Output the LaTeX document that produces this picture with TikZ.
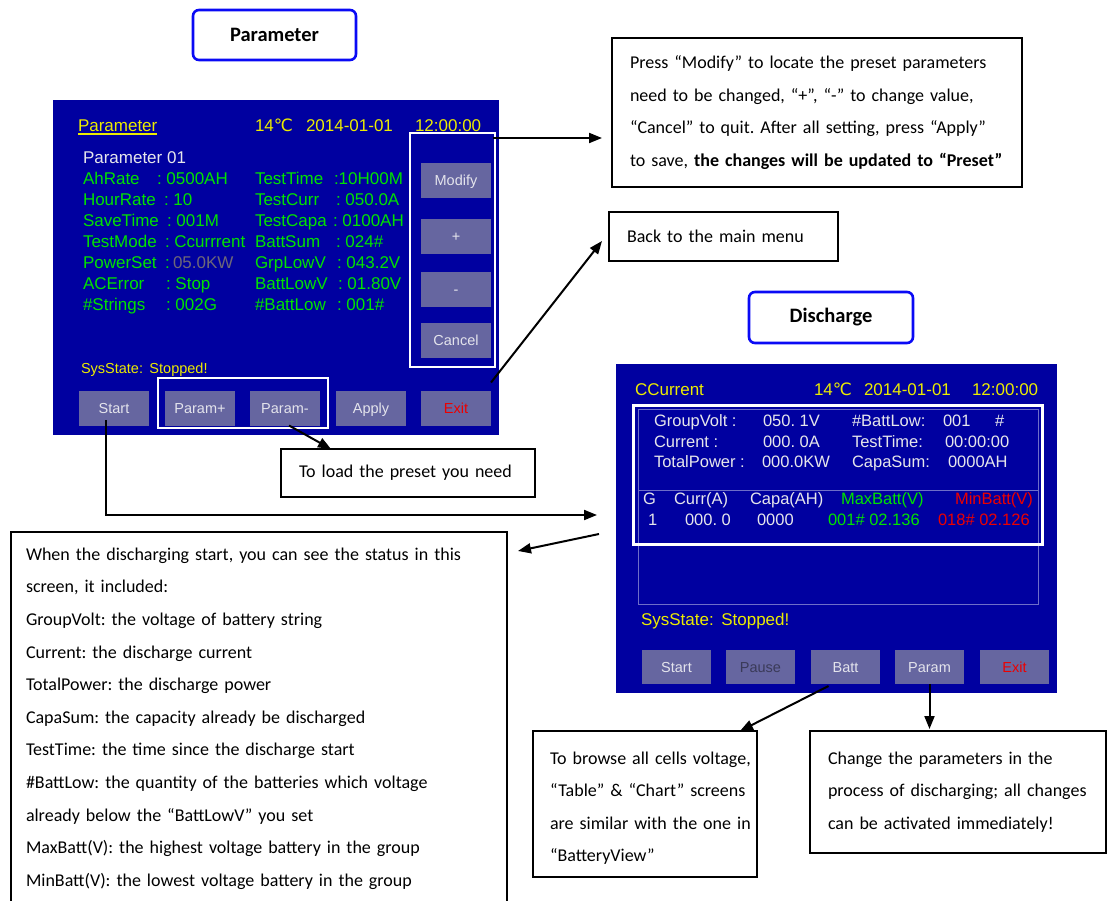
\documentclass[tikz,border=0pt]{standalone}
\usepackage{fontspec}
\setmainfont{Carlito}[WordSpace=0.71]
\newfontfamily\scrfont{Liberation Sans}
\newfontfamily\symfont{DejaVu Sans}
\usetikzlibrary{arrows.meta,calc}
\definecolor{scrblue}{RGB}{0,0,160}
\definecolor{btnfill}{RGB}{102,102,160}
\definecolor{btntext}{RGB}{228,228,236}
\definecolor{lyellow}{RGB}{236,236,0}
\definecolor{lgreen}{RGB}{0,226,0}
\definecolor{lred}{RGB}{236,0,0}
\definecolor{lwhite}{RGB}{230,230,235}
\definecolor{dimval}{RGB}{110,104,120}
\definecolor{pausetxt}{RGB}{58,58,88}
\definecolor{framebl}{RGB}{110,110,200}
\definecolor{titleblue}{RGB}{10,10,245}
\newcommand\dgC{{\symfont ℃}}
\newcommand\oneline[1]{\mbox{#1}}
\frenchspacing
\begin{document}
\begin{tikzpicture}[x=1pt,y=-1pt,
  every node/.style={outer sep=0pt},
  screen/.style={fill=scrblue, inner sep=0pt},
  btn/.style={fill=btnfill, text=btntext, inner sep=0pt, minimum width=70pt, minimum height=35pt,
    font=\scrfont\fontsize{14.5}{16}\selectfont, text height=10.4pt, text depth=0pt},
  rbtn/.style={btn, minimum width=69pt, minimum height=34pt},
  hl/.style={draw=white, line width=2.5pt, inner sep=0pt},
  lbl/.style={anchor=west, inner sep=0pt, font=\scrfont\fontsize{17}{19}\selectfont, text height=12.2pt, text depth=0pt},
  slbl/.style={lbl, font=\scrfont\fontsize{16.5}{19}\selectfont, text height=11.8pt, text=lwhite},
  note/.style={draw=black, line width=2.5pt, fill=white, align=left, inner ysep=0pt,
    font=\fontsize{18}{32.6}\selectfont},
  titlebox/.style={draw=titleblue, line width=2.6pt, rounded corners=6pt, fill=white, inner sep=0pt,
    font=\bfseries\fontsize{20.5}{23}\selectfont},
  conn/.style={draw=black, line width=2pt, -{Triangle[length=13pt,width=10pt]}},
]
\useasboundingbox (0,0) rectangle (1108,901);
\clip (0,0) rectangle (1108,901);

% ---------- Parameter screen ----------
\node[titlebox, minimum width=163pt, minimum height=50pt] (tpar) at (274.5,35) {Parameter};
\node[screen, minimum width=446pt, minimum height=335pt] (lscr) at (276,267.5) {};

\node[lbl, text=lyellow] (ptit) at (78,125) {Parameter};
\draw[lyellow, line width=1.3pt] ($(ptit.south west)+(0,3)$) -- ($(ptit.south east)+(0,3)$);
\node[lbl, text=lyellow] (ptemp) at (255,125) {14\dgC};
\node[lbl, text=lyellow] (pdate) at (306,125) {2014-01-01};
\node[lbl, text=lyellow] (ptime) at (415,125) {12:00:00};

\node[lbl, text=lwhite] (pno) at (83,157) {Parameter 01};

\node[lbl, text=lgreen] (la1) at (83,178) {AhRate};
\node[lbl, text=lgreen] (lv1) at (157,178) {: 0500AH};
\node[lbl, text=lgreen] (la2) at (83,199) {HourRate};
\node[lbl, text=lgreen] (lv2) at (164,199) {: 10};
\node[lbl, text=lgreen] (la3) at (83,220) {SaveTime};
\node[lbl, text=lgreen] (lv3) at (167,220) {: 001M};
\node[lbl, text=lgreen] (la4) at (83,241) {TestMode};
\node[lbl, text=lgreen] (lv4) at (165,241) {: Ccurrrent};
\node[lbl, text=lgreen] (la5) at (83,262) {PowerSet};
\node[lbl, text=lgreen] (lv5) at (165,262) {:};
\node[lbl, text=dimval] (lv5b) at (173,262) {05.0KW};
\node[lbl, text=lgreen] (la6) at (83,283) {ACError};
\node[lbl, text=lgreen] (lv6) at (166,283) {: Stop};
\node[lbl, text=lgreen] (la7) at (83,304) {\#Strings};
\node[lbl, text=lgreen] (lv7) at (166,304) {: 002G};

\node[lbl, text=lgreen] (ra1) at (255,178) {TestTime};
\node[lbl, text=lgreen] (rv1) at (334,178) {:10H00M};
\node[lbl, text=lgreen] (ra2) at (255,199) {TestCurr};
\node[lbl, text=lgreen] (rv2) at (336,199) {: 050.0A};
\node[lbl, text=lgreen] (ra3) at (255,220) {TestCapa};
\node[lbl, text=lgreen] (rv3) at (333,220) {: 0100AH};
\node[lbl, text=lgreen] (ra4) at (255,241) {BattSum};
\node[lbl, text=lgreen] (rv4) at (336,241) {: 024\#};
\node[lbl, text=lgreen] (ra5) at (255,262) {GrpLowV};
\node[lbl, text=lgreen] (rv5) at (337,262) {: 043.2V};
\node[lbl, text=lgreen] (ra6) at (255,283) {BattLowV};
\node[lbl, text=lgreen] (rv6) at (338,283) {: 01.80V};
\node[lbl, text=lgreen] (ra7) at (255,304) {\#BattLow};
\node[lbl, text=lgreen] (rv7) at (337,304) {: 001\#};

\node[lbl, text=lyellow, font=\scrfont\fontsize{14.5}{17}\selectfont, text height=10.4pt] (lsys) at (81,368) {SysState:\ \,Stopped!};

\node[hl, minimum width=85pt, minimum height=234pt] (lhlR) at (452.5,250) {};
\node[btn] (lmod) at (456,180.5) {Modify};
\node[btn] (lplus) at (456,236.5) {+};
\node[btn] (lminus) at (456,289.5) {-};
\node[btn] (lcan) at (456,340.5) {Cancel};

\node[hl, minimum width=170pt, minimum height=50pt] (lhlB) at (243,403) {};
\node[btn] (lstart) at (114,408) {Start};
\node[btn] (lparp) at (200,408) {Param+};
\node[btn] (lparm) at (285,408) {Param-};
\node[btn] (lapp) at (371,408) {Apply};
\node[btn, text=lred] (lexit) at (456,408) {Exit};

% ---------- Discharge screen ----------
\node[titlebox, minimum width=164pt, minimum height=51pt] (tdis) at (831,317.5) {Discharge};
\node[screen, minimum width=441pt, minimum height=329pt] (rscr) at (836.5,528.5) {};

\node[lbl, text=lyellow] (rtit) at (635,389) {CCurrent};
\node[lbl, text=lyellow] (rtemp) at (814,389) {14\dgC};
\node[lbl, text=lyellow] (rdate) at (864,389) {2014-01-01};
\node[lbl, text=lyellow] (rtime) at (972,389) {12:00:00};

\node[draw=framebl, line width=1pt, inner sep=0pt, minimum width=400pt, minimum height=195pt] (rpanel) at (838,506.5) {};
\coordinate (ysep) at (0,490);
\draw[framebl, line width=1pt] (rpanel.west |- ysep) -- (rpanel.east |- ysep);
\node[hl, line width=3pt, minimum width=409pt, minimum height=139pt] (rhl) at (837.5,474.5) {};

\node[slbl] (g1a) at (654,421) {GroupVolt :};
\node[slbl] (g1b) at (763,421) {050. 1V};
\node[slbl] (g1c) at (852,421) {\#BattLow:};
\node[slbl] (g1d) at (943,421) {001};
\node[slbl] (g1e) at (995,421) {\#};
\node[slbl] (g2a) at (654,442) {Current :};
\node[slbl] (g2b) at (763,442) {000. 0A};
\node[slbl] (g2c) at (852,442) {TestTime:};
\node[slbl] (g2d) at (945,442) {00:00:00};
\node[slbl] (g3a) at (654,462) {TotalPower :};
\node[slbl] (g3b) at (762,462) {000.0KW};
\node[slbl] (g3c) at (852,462) {CapaSum:};
\node[slbl] (g3d) at (948,462) {0000AH};

\node[slbl] (h1) at (643,499) {G};
\node[slbl] (h2) at (674,499) {Curr(A)};
\node[slbl] (h3) at (750,499) {Capa(AH)};
\node[slbl, text=lgreen] (h4) at (841,499) {MaxBatt(V)};
\node[slbl, text=lred] (h5) at (955,499) {MinBatt(V)};
\node[slbl] (d1) at (648,520) {1};
\node[slbl] (d2) at (685,520) {000. 0};
\node[slbl] (d3) at (757,520) {0000};
\node[slbl, text=lgreen] (d4) at (828,520) {001\# 02.136};
\node[slbl, text=lred] (d5) at (938,520) {018\# 02.126};

\node[lbl, text=lyellow, font=\scrfont\fontsize{17}{20}\selectfont, text height=12.2pt] (rsys) at (641,619) {SysState:\ \,Stopped!};

\node[rbtn] (rstart) at (676.5,667) {Start};
\node[rbtn, text=pausetxt] (rpause) at (760.5,667) {Pause};
\node[rbtn] (rbatt) at (845.5,667) {Batt};
\node[rbtn] (rpar) at (929.5,667) {Param};
\node[rbtn, text=lred] (rexit) at (1014.5,667) {Exit};

% ---------- explanation boxes ----------
\node[note, minimum width=410pt, minimum height=149pt, text width=374pt, inner xsep=18pt] (n1) at (817,112.5)
  {\oneline{Press “Modify” to locate the preset parameters}\\
   \oneline{need to be changed, “+”, “-” to change value,}\\
   \oneline{“Cancel” to quit. After all setting, press “Apply”}\\
   \oneline{to save, \textbf{the changes will be updated to “Preset”}}};
\node[note, minimum width=229pt, minimum height=49pt, text width=193pt, inner xsep=18pt] (n2) at (723.5,236.5)
  {\oneline{Back to the main menu}};
\node[note, minimum width=254pt, minimum height=48pt, text width=218pt, inner xsep=18pt] (n3) at (408,473)
  {\oneline{To load the preset you need}};
\node[note, minimum width=496pt, minimum height=373pt, text width=466pt, inner xsep=15pt] (n4) at (259,718.5)
  {\oneline{When the discharging start, you can see the status in this}\\
   \oneline{screen, it included:}\\
   \oneline{GroupVolt: the voltage of battery string}\\
   \oneline{Current: the discharge current}\\
   \oneline{TotalPower: the discharge power}\\
   \oneline{CapaSum: the capacity already be discharged}\\
   \oneline{TestTime: the time since the discharge start}\\
   \oneline{\#BattLow: the quantity of the batteries which voltage}\\
   \oneline{already below the “BattLowV” you set}\\
   \oneline{MaxBatt(V): the highest voltage battery in the group}\\
   \oneline{MinBatt(V): the lowest voltage battery in the group}};
\node[note, minimum width=224pt, minimum height=146pt, text width=190pt, inner xsep=17pt] (n5) at (645,804)
  {\rule{0pt}{21pt}\oneline{To browse all cells voltage,}\\
   \oneline{“Table” \& “Chart” screens}\\
   \oneline{are similar with the one in}\\
   \oneline{“BatteryView”}};
\node[note, minimum width=296pt, minimum height=122pt, text width=260pt, inner xsep=18pt] (n6) at (958,792)
  {\oneline{Change the parameters in the}\\
   \oneline{process of discharging; all changes}\\
   \oneline{can be activated immediately!}};

% ---------- connectors ----------
\coordinate (aS) at ($(lhlR.north east)+(-2,5)$);
\draw[conn, shorten >=10pt] (aS) -- (aS -| n1.west);

\coordinate (bS) at ($(lexit.north east)+(0,-8)$);
\coordinate (bE) at ($(n2.west)+(-7,4.5)$);
\draw[conn] (bS) -- (bE);

\coordinate (cS) at ($(lparm.south)+(4,0)$);
\coordinate (cE) at ($(n3.north west)+(50,0)$);
\draw[conn] (cS) -- (cE);

\coordinate (dS) at ($(lstart.center)+(-8,12)$);
\coordinate (dE) at ($(rscr.west)+(-19,-13.5)$);
\draw[conn] (dS) |- (dE);

\coordinate (eS) at ($(rscr.west)+(-17,5.5)$);
\coordinate (eE) at ($(n4.north east)+(11,19)$);
\draw[conn] (eS) -- (eE);

\coordinate (fS) at ($(rbatt.south)+(-17,2)$);
\coordinate (fE) at ($(n5.north east)+(-17,0)$);
\draw[conn] (fS) -- (fE);

\draw[conn, shorten >=2pt] (rpar.south) -- (rpar.south |- n6.north);
\end{tikzpicture}
\end{document}
